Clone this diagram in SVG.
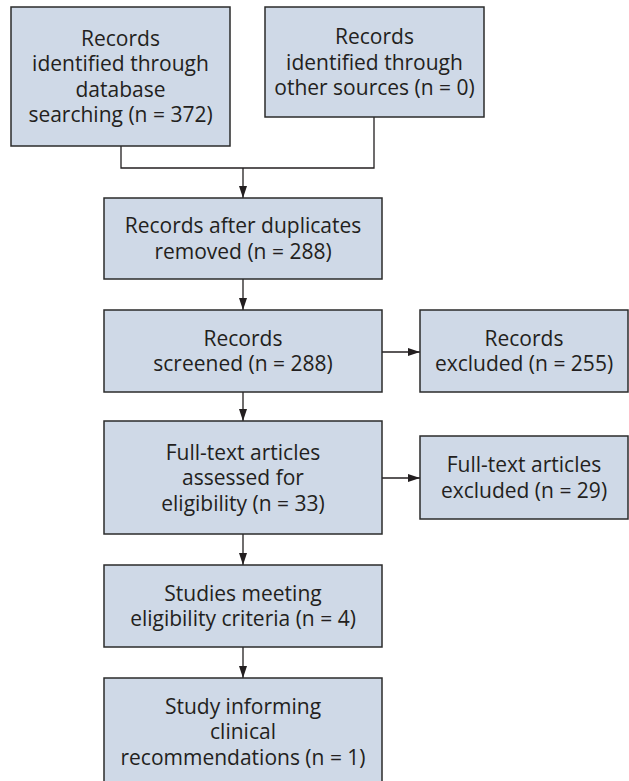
<svg xmlns="http://www.w3.org/2000/svg" width="629" height="781" viewBox="0 0 629 781">
  <defs>
    <marker id="arrow" viewBox="0 0 12 8" refX="12" refY="4" markerWidth="12" markerHeight="8" markerUnits="userSpaceOnUse" orient="auto">
      <path d="M0,0 L12,4 L0,8 Z" fill="#231f20"/>
    </marker>
    <style>
      .box { fill: #cfd9e7; stroke: #2b2b2b; stroke-width: 1.5; }
      .lbl { font-family: "Open Sans", "Noto Sans", "Liberation Sans", sans-serif; font-size: 21px; fill: #231f20; text-anchor: middle; }
      .link { fill: none; stroke: #231f20; stroke-width: 1.3; }
      .arr { marker-end: url(#arrow); }
    </style>
  </defs>
  <rect width="629" height="781" fill="#ffffff"/>

  <!-- connectors -->
  <g id="connectors">
    <polyline class="link" points="121,146 121,168 374,168 374,117"/>
    <line class="link arr" x1="243" y1="168" x2="243" y2="198"/>
    <line class="link arr" x1="243" y1="279" x2="243" y2="310"/>
    <line class="link arr" x1="382" y1="352" x2="420" y2="352"/>
    <line class="link arr" x1="243" y1="392" x2="243" y2="421"/>
    <line class="link arr" x1="382" y1="478" x2="420" y2="478"/>
    <line class="link arr" x1="243" y1="534" x2="243" y2="565"/>
    <line class="link arr" x1="243" y1="647" x2="243" y2="678"/>
  </g>

  <g id="records-database">
    <rect class="box" x="11" y="7" width="219" height="139"/>
    <text class="lbl" x="120.5" y="45.75">Records</text>
    <text class="lbl" x="120.5" y="71.25">identified through</text>
    <text class="lbl" x="120.5" y="96.75">database</text>
    <text class="lbl" x="120.5" y="122.25">searching (n = 372)</text>
  </g>

  <g id="records-other">
    <rect class="box" x="265" y="7" width="219" height="110"/>
    <text class="lbl" x="374.5" y="44">Records</text>
    <text class="lbl" x="374.5" y="69.5">identified through</text>
    <text class="lbl" x="374.5" y="95">other sources (n = 0)</text>
  </g>

  <g id="records-deduplicated">
    <rect class="box" x="104" y="198" width="278" height="81"/>
    <text class="lbl" x="243" y="233.25">Records after duplicates</text>
    <text class="lbl" x="243" y="258.75">removed (n = 288)</text>
  </g>

  <g id="records-screened">
    <rect class="box" x="104" y="310" width="278" height="82"/>
    <text class="lbl" x="243" y="345.75">Records</text>
    <text class="lbl" x="243" y="371.25">screened (n = 288)</text>
  </g>

  <g id="records-excluded">
    <rect class="box" x="420" y="310" width="208" height="82"/>
    <text class="lbl" x="524" y="345.75">Records</text>
    <text class="lbl" x="524" y="371.25">excluded (n = 255)</text>
  </g>

  <g id="fulltext-assessed">
    <rect class="box" x="104" y="421" width="278" height="113"/>
    <text class="lbl" x="243" y="459.5">Full-text articles</text>
    <text class="lbl" x="243" y="485">assessed for</text>
    <text class="lbl" x="243" y="510.5">eligibility (n = 33)</text>
  </g>

  <g id="fulltext-excluded">
    <rect class="box" x="420" y="436" width="208" height="83"/>
    <text class="lbl" x="524" y="472.25">Full-text articles</text>
    <text class="lbl" x="524" y="497.75">excluded (n = 29)</text>
  </g>

  <g id="studies-eligible">
    <rect class="box" x="104" y="565" width="278" height="82"/>
    <text class="lbl" x="243" y="600.75">Studies meeting</text>
    <text class="lbl" x="243" y="626.25">eligibility criteria (n = 4)</text>
  </g>

  <g id="study-informing">
    <rect class="box" x="104" y="678" width="278" height="110"/>
    <text class="lbl" x="243" y="713.5">Study informing</text>
    <text class="lbl" x="243" y="739">clinical</text>
    <text class="lbl" x="243" y="764.5">recommendations (n = 1)</text>
  </g>
</svg>
